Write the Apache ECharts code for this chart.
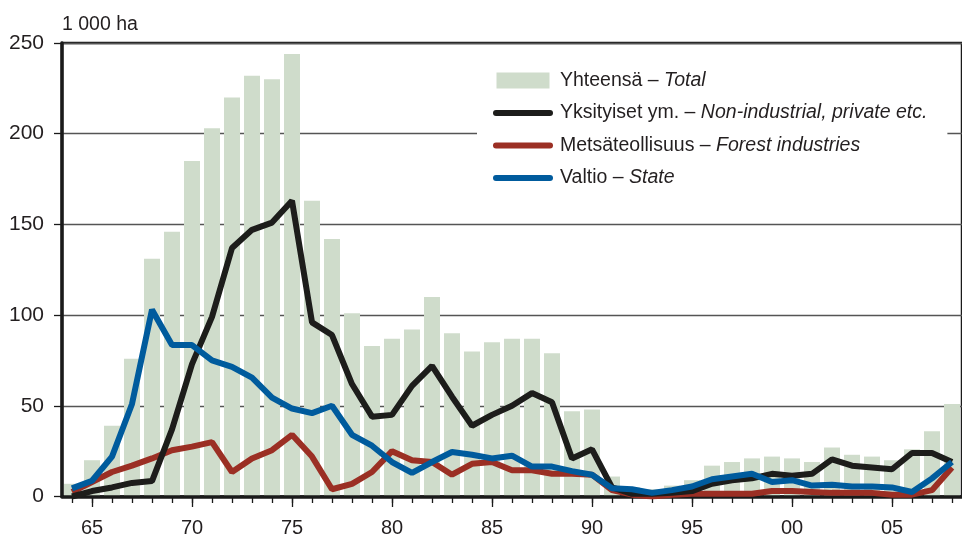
<!DOCTYPE html>
<html>
<head>
<meta charset="utf-8">
<script src="https://cdn.jsdelivr.net/npm/echarts@6/dist/echarts.min.js"></script>
<style>
  html, body { margin: 0; padding: 0; background: #fff; }
  #chart { width: 962px; height: 540px; }
</style>
</head>
<body>
<div id="chart"></div>
<script>
// vuodet 1964-2008
const years = ['1964','1965','1966','1967','1968','1969','1970','1971','1972','1973',
  '1974','1975','1976','1977','1978','1979','1980','1981','1982','1983',
  '1984','1985','1986','1987','1988','1989','1990','1991','1992','1993',
  '1994','1995','1996','1997','1998','1999','2000','2001','2002','2003',
  '2004','2005','2006','2007','2008'];

const totalVals = [7, 20, 39, 76, 131, 146, 185, 203, 220, 232, 230, 244,
  163, 142, 101, 83, 87, 92, 110, 90, 80, 85, 87, 87, 79, 47, 48, 11,
  5, 4, 6, 9, 17, 19, 21, 22, 21, 19, 27, 23, 22, 20, 26, 36, 51];

const privateVals = [0, 3, 5, 7.5, 8.5, 37, 73, 99, 137, 147, 151, 163,
  96, 89, 62, 44, 45, 61, 72, 55, 39, 45, 50, 57, 52, 21, 26, 5,
  1.5, 1.5, 2, 3, 7, 9, 10, 12.5, 11.5, 12.5, 20.5, 17, 16, 15, 24, 24, 19];

const forestVals = [2.5, 8, 13.5, 17, 21, 25.5, 27.5, 30, 13.5, 21, 25.5, 34,
  22, 4, 7, 13.5, 25, 20, 19, 12, 18, 19, 14.5, 14.5, 12.5, 12.5, 12, 3.5,
  1, 0, 1, 1.5, 1.5, 1.5, 1.5, 3, 3, 2.5, 2, 2, 2, 1, 1, 3.5, 16];

const stateVals = [4.5, 8.7, 22, 51, 103, 83.5, 83.5, 75, 71.5, 65.5, 54.5, 48.5,
  46, 50, 34, 28, 19, 13, 19, 24.5, 23, 21, 22.5, 16.5, 16.5, 14, 12, 4.5,
  4, 2, 3.5, 5.5, 9.5, 11, 12.5, 8, 9, 6, 6.5, 5.5, 5.5, 5, 2.5, 10, 19];

const names = {
  total:   'Yhteensä – Total',
  priv:    'Yksityiset ym. – Non-industrial, private etc.',
  forest:  'Metsäteollisuus – Forest industries',
  state:   'Valtio – State'
};

const FONT = '"Liberation Sans", Arial, sans-serif';
const INK = '#231f20';
const BAR_ICON = 'path://M0,0L53,0L53,16L0,16Z';
const LINE_ICON = 'path://M3,0L57,0A3,3 0 0 1 57,6L3,6A3,3 0 0 1 3,0Z';

const chart = echarts.init(document.getElementById('chart'), null, { renderer: 'canvas' });

const every5 = (i, v) => parseInt(v) % 5 === 0;

function lineSeries(name, data, color, z) {
  return {
    name: name,
    type: 'line',
    data: data,
    symbol: 'none',
    z: z,
    lineStyle: { color: color, width: 6 },
    itemStyle: { color: color }
  };
}

const option = {
  animation: false,
  backgroundColor: '#fff',
  textStyle: { fontFamily: FONT, color: INK },
  grid: {
    left: 62, top: 43, width: 903, height: 453.5,
    show: true, borderColor: '#1a1a1a', borderWidth: 2.5,
    backgroundColor: 'transparent'
  },
  legend: {
    orient: 'vertical',
    left: 477, top: 56.5,
    padding: [14, 20, 9, 16],
    backgroundColor: '#fff',
    itemWidth: 60, itemHeight: 16,
    itemGap: 12.5,
    data: [
      { name: names.total, icon: BAR_ICON },
      { name: names.priv, icon: LINE_ICON },
      { name: names.forest, icon: LINE_ICON },
      { name: names.state, icon: LINE_ICON }
    ],
    formatter: function(n) {
      const p = n.split(' – ');
      return '{n|' + p[0] + ' – }{i|' + p[1] + '}';
    },
    textStyle: {
      padding: [0, 0, 0, 2],
      rich: {
        n: { fontFamily: FONT, fontSize: 19.5, color: INK, lineHeight: 20 },
        i: { fontFamily: FONT, fontSize: 19.5, color: INK, fontStyle: 'italic', lineHeight: 20 }
      }
    }
  },
  xAxis: [
    {
      type: 'category',
      position: 'bottom',
      data: years,
      z: 2.5,
      axisLine: { show: true, onZero: false, lineStyle: { color: '#1a1a1a', width: 3.5 } },
      axisTick: { show: true, interval: 0, alignWithLabel: true, length: 6.5,
        lineStyle: { color: '#1a1a1a', width: 1.3 } },
      axisLabel: {
        interval: every5,
        margin: 22,
        fontFamily: FONT, fontSize: 20, color: INK,
        formatter: v => v.slice(2)
      },
      splitLine: { show: false }
    },
    {
      type: 'category',
      position: 'bottom',
      data: years,
      z: 2.5,
      axisLine: { show: false },
      axisTick: { show: true, interval: every5, alignWithLabel: true, length: 10.5,
        lineStyle: { color: '#1a1a1a', width: 1.3 } },
      axisLabel: { show: false },
      splitLine: { show: false }
    }
  ],
  yAxis: {
    type: 'value',
    min: 0, max: 250, interval: 50,
    name: '1 000 ha',
    nameLocation: 'end',
    nameGap: 8,
    nameTextStyle: { fontFamily: FONT, fontSize: 19.5, color: INK, align: 'left',
      padding: [0, 0, 0, 0] },
    axisLine: { show: true, lineStyle: { color: '#1a1a1a', width: 3.5 } },
    axisTick: { show: true, length: 8, lineStyle: { color: '#1a1a1a', width: 1.3 } },
    axisLabel: { margin: 18, fontFamily: FONT, fontSize: 21, color: INK },
    splitLine: { show: true, lineStyle: { color: '#555', width: 1.3 } }
  },
  series: [
    {
      name: names.total,
      type: 'bar',
      data: totalVals,
      barWidth: 16,
      z: 2,
      itemStyle: { color: '#cfdccb' }
    },
    lineSeries(names.priv, privateVals, '#1d1d1b', 4),
    lineSeries(names.forest, forestVals, '#9b2f24', 3),
    lineSeries(names.state, stateVals, '#005b9d', 5)
  ]
};

chart.setOption(option);
</script>
</body>
</html>
